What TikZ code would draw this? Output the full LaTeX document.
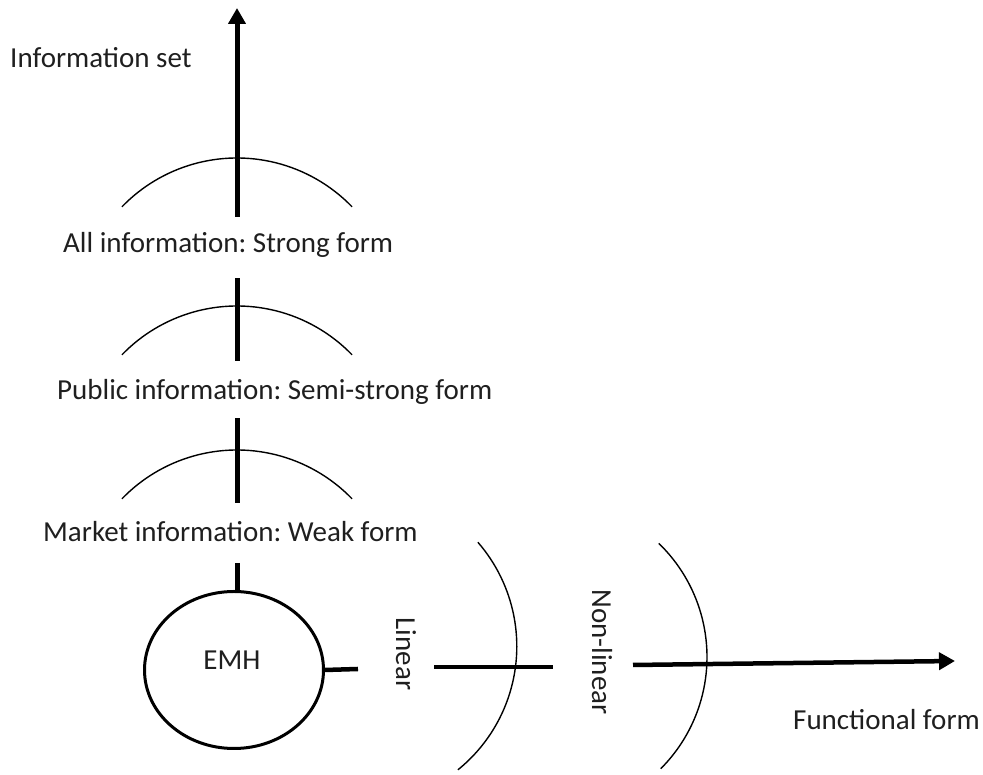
\documentclass[tikz,border=0pt]{standalone}
\usepackage{fontspec}
\setmainfont{Carlito}
\usetikzlibrary{arrows.meta,shapes.geometric}
\frenchspacing
\begin{document}
\begin{tikzpicture}[x=1pt,y=1pt,
  lbl/.style={font=\fontsize{29}{34}\selectfont, inner sep=0pt, text=black!88},
  axis/.style={line width=5pt},
  stub/.style={line width=4.5pt},
  band/.style={line width=1.4pt},
  tipend/.style={-{Triangle[length=16pt,width=17pt]}}]
\useasboundingbox (0,0) rectangle (983,775);

% labels
\node[lbl, anchor=base west] (infoset) at (10,707) {Information set};
\node[lbl, anchor=base west] (strong) at (63,522) {All information: Strong form};
\node[lbl, anchor=base west] (semi) at (57,375) {Public information: Semi-strong form};
\node[lbl, anchor=base west] (weak) at (43,233) {Market information: Weak form};
\node[lbl, anchor=base west] (func) at (793,45) {Functional form};
\node[lbl, rotate=-90] (linear) at (406,121) {Linear};
\node[lbl, rotate=-90] (nonlinear) at (602,123) {Non-linear};

% EMH ellipse
\node[draw, ellipse, line width=3pt, minimum width=179pt, minimum height=157pt, inner sep=0pt] (emh) at (234,105) {};
\node[lbl] (emhtext) at (232,115) {EMH};

% vertical axis pieces
\coordinate (v1b) at (237,558); \coordinate (v1t) at (237,767);
\coordinate (v2b) at (237,414); \coordinate (v2t) at (237,497);
\coordinate (v3b) at (237,272); \coordinate (v3t) at (237,357);
\coordinate (v4t) at (237,212);
\draw[axis,tipend] (v1b) -- (v1t);
\draw[axis] (v2b) -- (v2t);
\draw[axis] (v3b) -- (v3t);
\draw[axis] (v4t) -- (v4t |- emh.north);

% horizontal axis pieces
\coordinate (h1e) at (358,106);
\coordinate (h2s) at (434,108); \coordinate (h2e) at (553,108);
\coordinate (h3s) at (633,110); \coordinate (h3e) at (955,114);
\draw[stub] (emh.east) -- (h1e);
\draw[stub] (h2s) -- (h2e);
\draw[stub,tipend] (h3s) -- (h3e);

% arcs on the vertical axis
\draw[band] (237,457) ++(136:160) arc[start angle=136, end angle=44, radius=160];
\draw[band] (237,309) ++(136:160) arc[start angle=136, end angle=44, radius=160];
\draw[band] (237,165) ++(136:160) arc[start angle=136, end angle=44, radius=160];

% arcs on the horizontal axis
\draw[band] (358,128.6) ++(41:158.8) arc[start angle=41, end angle=-51, radius=158.8];
\draw[band] (549,118) ++(46:158) arc[start angle=46, end angle=-45, radius=158];
\end{tikzpicture}
\end{document}
